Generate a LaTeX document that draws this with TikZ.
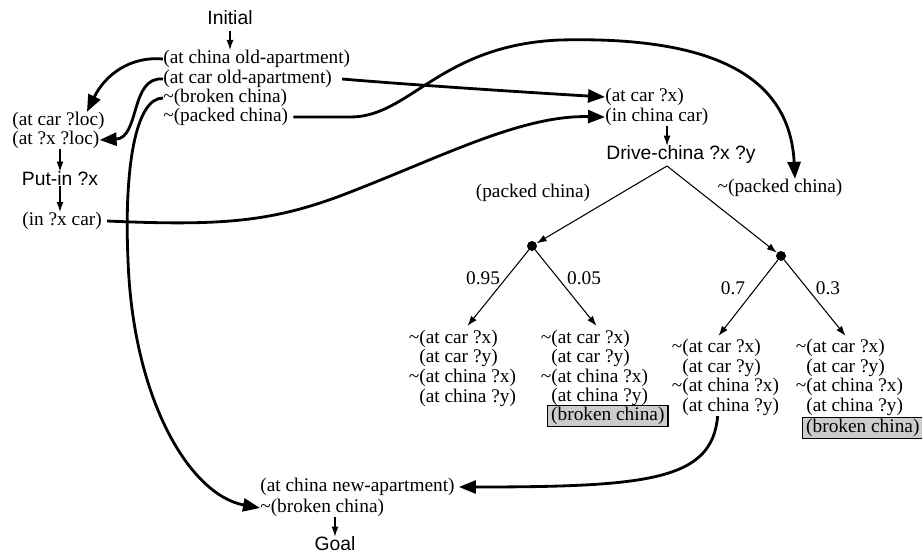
\documentclass[tikz,border=0pt]{standalone}
\usepackage{fontspec}
\setmainfont{Liberation Serif}
\setsansfont{Liberation Sans}
\usetikzlibrary{arrows.meta}
\newcommand{\nott}{\llap{\textasciitilde}}

\begin{document}
\begin{tikzpicture}[x=0.02cm, y=-0.02cm, font=\fontsize{11}{13}\selectfont,
    fact/.style={inner sep=0pt, anchor=west},
    act/.style={inner sep=0pt, font=\sffamily\fontsize{11}{13}\selectfont},
    link/.style={line width=1.6pt, -{Triangle[length=3.4mm,width=2.6mm]}},
    branch/.style={line width=0.6pt, -{Latex[length=2mm,width=1.4mm]}},
    chance/.style={circle, fill, inner sep=0pt, minimum size=2mm},
    broken/.style={draw, line width=0.8pt, fill=black!20, inner xsep=2pt, inner ysep=1pt, anchor=west}]
        \useasboundingbox (0,0) rectangle (922,554);
        %initial state
        \node[act] (initial) at (230,18) {Initial};
        \node[fact] (ichina) at (163,59) {(at china old-apartment)};
        \node[fact] (icar) at (163,79) {(at car old-apartment)};
        \node[fact] (ibroken) at (163,98) {\textasciitilde(broken china)};
        \node[fact] (ipacked) at (163,117) {\textasciitilde(packed china)};
        %put-in step
        \node[fact] (pcar) at (12,121) {(at car ?loc)};
        \node[fact] (pat) at (12,140) {(at ?x ?loc)};
        \node[act] (putin) at (60,179) {Put-in ?x};
        \node[fact] (pin) at (22,221) {(in ?x car)};
        %drive step
        \node[fact] (dcar) at (605,97) {(at car ?x)};
        \node[fact] (dchina) at (605,117) {(in china car)};
        \node[act] (drive) at (681,155) {Drive-china ?x ?y};
        \coordinate (apex) at (667,166);
        \node (lpacked) at (533,193) {(packed china)};
        \node[inner sep=0pt] (lunpacked) at (780,188) {\textasciitilde(packed china)};
        \node[chance] (dot1) at (532,246) {};
        \node[chance] (dot2) at (781,256) {};
        \node (p95) at (483,278) {0.95};
        \node (p05) at (584,278) {0.05};
        \node (p7) at (733,288) {0.7};
        \node (p3) at (828,288) {0.3};
        %outcomes
        \node[fact] (l1a) at (419,339) {\nott(at car ?x)};
        \node[fact] (l1b) at (419,358) {(at car ?y)};
        \node[fact] (l1c) at (419,378) {\nott(at china ?x)};
        \node[fact] (l1d) at (419,398) {(at china ?y)};
        \node[fact] (l2a) at (551,339) {\nott(at car ?x)};
        \node[fact] (l2b) at (551,358) {(at car ?y)};
        \node[fact] (l2c) at (551,378) {\nott(at china ?x)};
        \node[fact] (l2d) at (551,397) {(at china ?y)};
        \node[broken] (l2e) at (547,416) {(broken china)};
        \node[fact] (l3a) at (682,348) {\nott(at car ?x)};
        \node[fact] (l3b) at (682,368) {(at car ?y)};
        \node[fact] (l3c) at (682,387) {\nott(at china ?x)};
        \node[fact] (l3d) at (682,407) {(at china ?y)};
        \node[fact] (l4a) at (806,348) {\nott(at car ?x)};
        \node[fact] (l4b) at (806,368) {(at car ?y)};
        \node[fact] (l4c) at (806,387) {\nott(at china ?x)};
        \node[fact] (l4d) at (806,407) {(at china ?y)};
        \node[broken] (l4e) at (802,428) {(broken china)};
        %goal
        \node[fact] (gchina) at (260,487) {(at china new-apartment)};
        \node[fact] (gbroken) at (260,508) {\textasciitilde(broken china)};
        \node[act] (goal) at (335,544) {Goal};
        %steps
        \draw[branch] ([yshift=-3pt]initial.south) -- (initial |- ichina.north);
        \draw[branch] (putin |- pat.south) -- (putin.north);
        \draw[branch] (putin.south) -- (putin |- pin.north);
        \draw[branch] (dchina.south -| apex) -- (drive.north -| apex);
        \draw[branch] (goal |- gbroken.south) -- (goal.north);
        \draw[branch] (apex) -- (dot1);
        \draw[branch] (apex) -- (dot2);
        \draw[branch] (dot1) -- ([xshift=0.18cm,yshift=0.08cm]l1a.north);
        \draw[branch] (dot1) -- ([xshift=0.12cm,yshift=0.08cm]l2a.north);
        \draw[branch] (dot2) -- ([xshift=-0.06cm,yshift=0.06cm]l3a.north);
        \draw[branch] (dot2) -- ([yshift=0.06cm]l4a.north);
        %links
        \draw[link] (ichina.west) .. controls (130,56) and (105,75) .. ([xshift=-0.36cm]pcar.north east);
        \draw[link] (icar.west) .. controls (130,76) and (140,138) .. (pat.east);
        \draw[link] (ibroken.west) .. controls (135,98) and (124,170) .. (128,260)
            .. controls (133,400) and (190,495) .. (gbroken.west);
        \draw[link] ([xshift=0.2cm]icar.east) .. controls (400,84) and (520,92) .. (dcar.west);
        \draw[link] ([xshift=0.1cm]ipacked.east) -- ++(57,0)
            .. controls (410,117) and (440,45) .. (560,40)
            .. controls (720,36) and (790,80) .. ([xshift=0.3cm]lunpacked.north);
        \draw[link] ([xshift=0.1cm]pin.east) .. controls (220,226) and (270,222) .. (340,196)
            .. controls (440,158) and (520,115) .. (dchina.west);
        \draw[link] ([xshift=-0.26cm]l3d.south) .. controls (712,480) and (650,487) .. ([xshift=0.08cm]gchina.east);
      \end{tikzpicture}
\end{document}
